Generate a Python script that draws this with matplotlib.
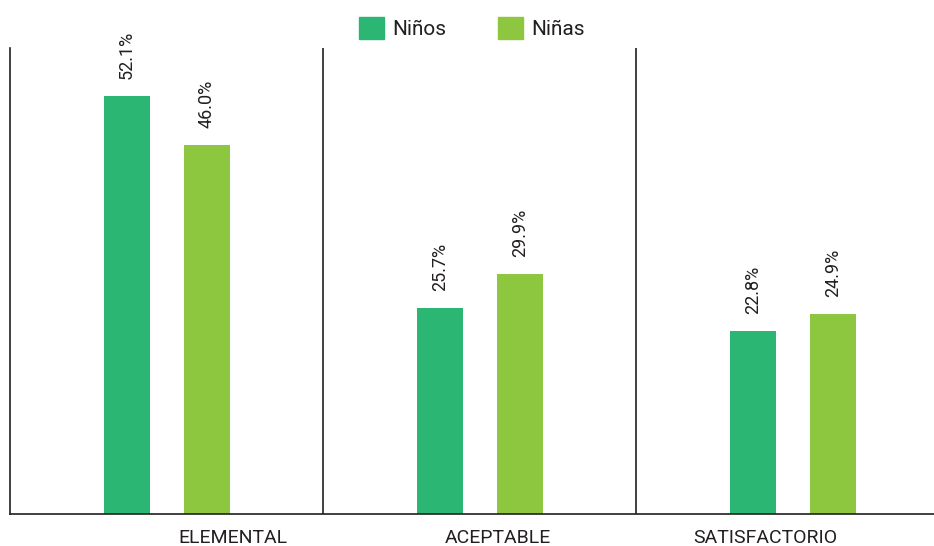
import matplotlib.pyplot as plt
from matplotlib.patches import Patch
from matplotlib import font_manager

categories = ["ELEMENTAL", "ACEPTABLE", "SATISFACTORIO"]
ninos = [52.1, 25.7, 22.8]
ninas = [46.0, 29.9, 24.9]
series_names = ["Niños", "Niñas"]

c_ninos = "#2BB673"
c_ninas = "#8DC63F"
txt = "#231F20"

names = {f.name for f in font_manager.fontManager.ttflist}
fam = [f for f in ["Roboto", "DejaVu Sans"] if f in names]
plt.rcParams["font.family"] = fam

fig = plt.figure(figsize=(9.34, 5.46), dpi=100)
ax = fig.add_axes([10 / 934, 32 / 546, 924 / 934, 466 / 546])

# each category occupies one unit; bars sit inside their slot
x = list(range(len(categories)))
off1, off2, w = 117 / 313, 197 / 313, 46 / 313
b1 = ax.bar([i + off1 for i in x], ninos, width=w, color=c_ninos)
b2 = ax.bar([i + off2 for i in x], ninas, width=w, color=c_ninas)

for bars, vals in ((b1, ninos), (b2, ninas)):
    for r, v in zip(bars, vals):
        ax.text(r.get_x() + r.get_width() / 2, v + 2.1, f"{v:.1f}%",
                rotation=90, ha="center", va="bottom", fontsize=13, color=txt)

for i in x[1:]:
    ax.axvline(i, color=txt, lw=1.2)

ax.set_xlim(0, 924 / 313)
ax.set_ylim(0, 58.1)
ax.spines["top"].set_visible(False)
ax.spines["right"].set_visible(False)
for s in ("left", "bottom"):
    ax.spines[s].set_color(txt)
    ax.spines[s].set_linewidth(1.2)
ax.set_yticks([])

label_pos = [223 / 313, 488 / 313, 755 / 313]
ax.set_xticks(label_pos)
ax.set_xticklabels(categories, fontsize=14, color=txt)
ax.tick_params(axis="x", length=0, pad=11)

handles = [Patch(color=c_ninos), Patch(color=c_ninas)]
fig.legend(handles, series_names, loc="center", bbox_to_anchor=(472 / 934, 1 - 28 / 546),
           ncol=2, frameon=False, fontsize=15, handlelength=1.2, handleheight=1.2,
           handletextpad=0.43, columnspacing=2.45, labelcolor=txt)

fig.savefig("out.png", dpi=100)
